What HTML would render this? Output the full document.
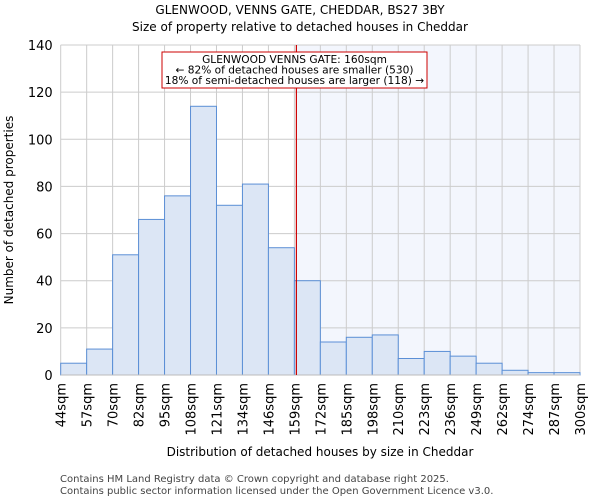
<!DOCTYPE html>
<html><head><meta charset="utf-8"><style>
body{margin:0;background:#fff;font-family:"DejaVu Sans","Liberation Sans",sans-serif}
text{font-family:"DejaVu Sans","Liberation Sans",sans-serif}
</style></head><body>
<svg id="chart" width="600" height="500" xmlns="http://www.w3.org/2000/svg">
<text x="300" y="14" text-anchor="middle" font-size="12">GLENWOOD, VENNS GATE, CHEDDAR, BS27 3BY</text>
<text x="300" y="31" text-anchor="middle" font-size="12">Size of property relative to detached houses in Cheddar</text>
<g id="plot"></g>
<text x="320" y="456" text-anchor="middle" font-size="12">Distribution of detached houses by size in Cheddar</text>
<text transform="translate(13,210) rotate(-90)" text-anchor="middle" font-size="12">Number of detached properties</text>
<text x="60" y="482" font-size="10" fill="#444">Contains HM Land Registry data © Crown copyright and database right 2025.</text>
<text x="60" y="494" font-size="10" fill="#444">Contains public sector information licensed under the Open Government Licence v3.0.</text>
</svg>
<script>
const binEdges=[44,57,70,82,95,108,121,134,146,159,172,185,198,210,223,236,249,262,274,287,300];
const counts=[5,11,51,66,76,114,72,81,54,40,14,16,17,7,10,8,5,2,1,1];
const yTicks=[0,20,40,60,80,100,120,140];
const markerValue=160;
const NS="http://www.w3.org/2000/svg";
const L=60.7,R=580,T=45,B=375,yMax=140;
const nb=counts.length,bw=(R-L)/nb;
const xi=i=>L+i*bw;
const xv=v=>{for(let i=0;i<binEdges.length-1;i++){if(v<=binEdges[i+1])return xi(i)+bw*(v-binEdges[i])/(binEdges[i+1]-binEdges[i]);}return R;};
const y=v=>B-(v/yMax)*(B-T);
const g=document.getElementById('plot');
function mk(t,a){const e=document.createElementNS(NS,t);for(const k in a)e.setAttribute(k,a[k]);g.appendChild(e);return e;}
const mx=xv(markerValue);
let e=mk('rect',{x:mx,y:T,width:R-mx,height:B-T,fill:'#f3f6fd'});


yTicks.forEach(t=>{
 let l=mk('line',{x1:L,x2:R,y1:y(t),y2:y(t),stroke:'#ccc','stroke-width':1});
 
 
 let tx=mk('text',{x:L-8,y:y(t)+5,'text-anchor':'end','font-size':13});
 tx.textContent=t;
 
 
});
binEdges.forEach((b,i)=>{
 let l=mk('line',{x1:xi(i),x2:xi(i),y1:T,y2:B,stroke:'#ccc','stroke-width':1});
 
 
 let tx=mk('text',{transform:`translate(${xi(i)+5},${B+8}) rotate(-90)`,'text-anchor':'end','font-size':13});
 tx.textContent=b+'sqm';
 
 
});
counts.forEach((c,i)=>{
 let r=mk('rect',{x:xi(i),y:y(c),width:bw,height:B-y(c),fill:'#dce6f5',stroke:'#5b8fd6','stroke-width':1});
 
 
});
e=mk('line',{x1:L,x2:R,y1:B,y2:B,stroke:'#bbb','stroke-width':1});


e=mk('line',{x1:mx,x2:mx,y1:T,y2:B,stroke:'#cc0000','stroke-width':1.2});


e=mk('rect',{x:162,y:52,width:265,height:36,fill:'#fff',stroke:'#cc0000','stroke-width':1});


["GLENWOOD VENNS GATE: 160sqm","← 82% of detached houses are smaller (530)","18% of semi-detached houses are larger (118) →"].forEach((s,i)=>{
 let tx=mk('text',{x:294.5,y:63+i*10.5,'text-anchor':'middle','font-size':10.6});
 tx.textContent=s;
 
 
});
</script>
</body></html>
